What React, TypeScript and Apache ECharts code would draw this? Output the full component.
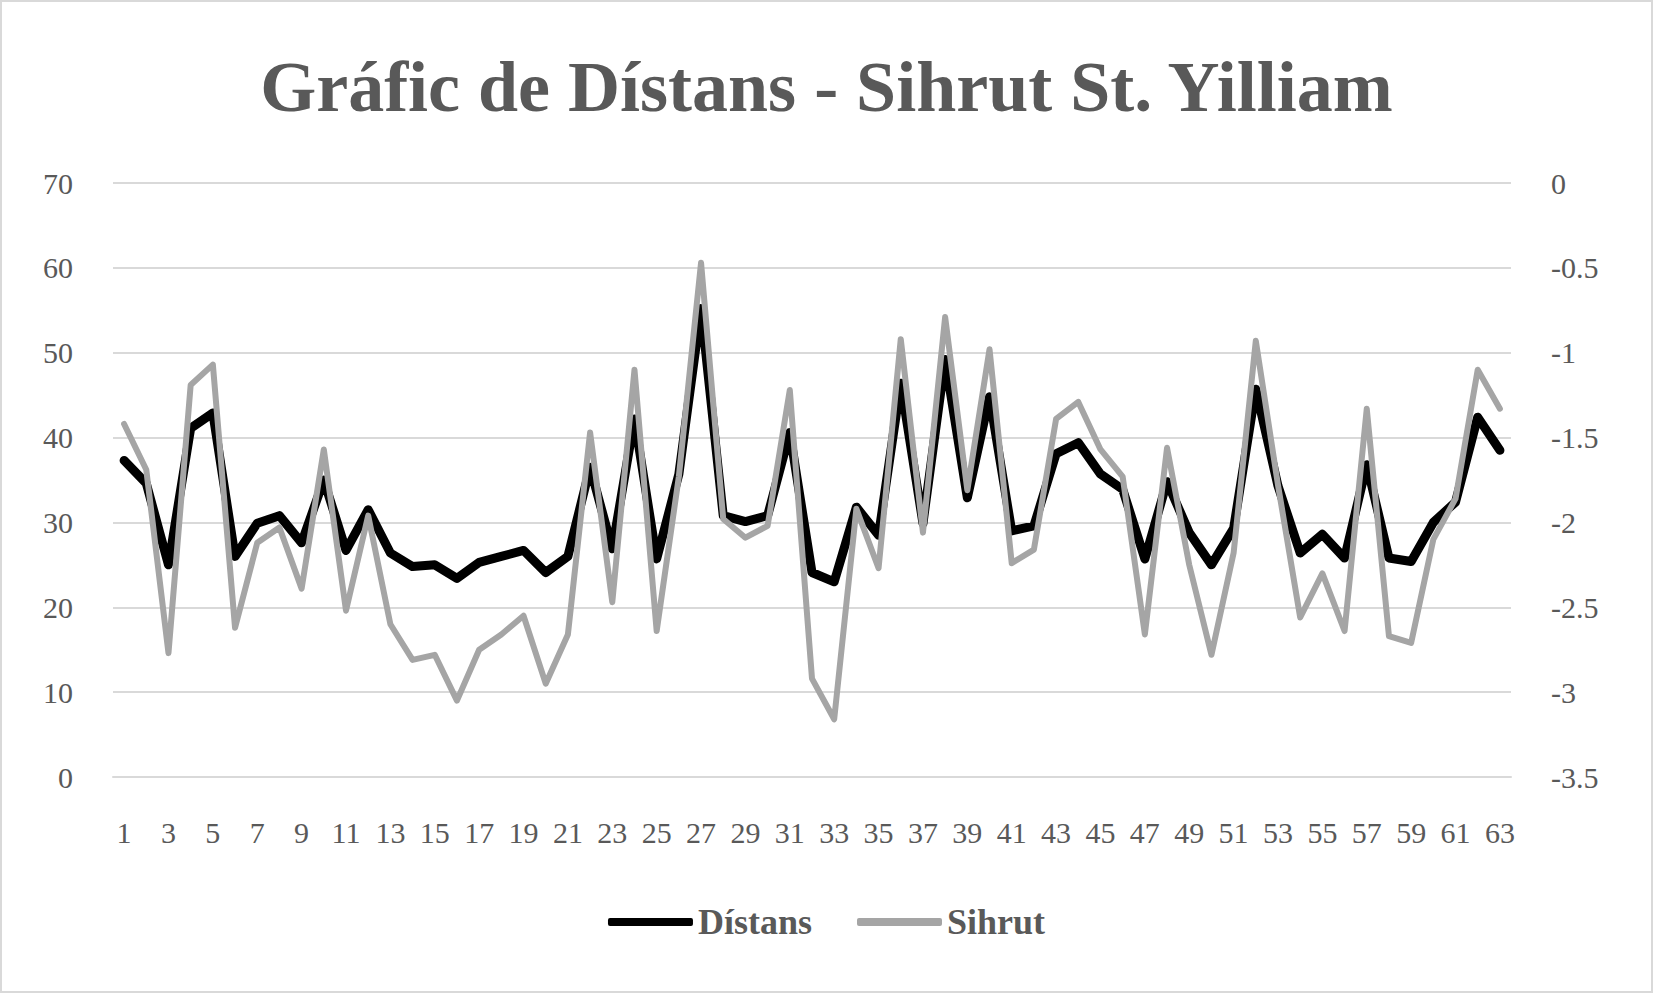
import { useEffect, useRef } from 'react';
import * as echarts from 'echarts';

const TITLE = 'Gráfic de Dístans - Sihrut St. Yilliam';
const SERIES_NAMES = ['Dístans', 'Sihrut'];

const categories = Array.from({ length: 63 }, (_, i) => String(i + 1));

const distans = [
  37.3, 34.6, 25.0, 41.1, 42.9, 26.0, 29.9, 30.8, 27.6, 35.0,
  26.7, 31.5, 26.4, 24.8, 25.0, 23.4, 25.3, 26.0, 26.7, 24.1,
  26.0, 36.5, 26.9, 42.2, 25.7, 35.7, 55.2, 30.8, 30.1, 30.8,
  40.6, 24.1, 23.0, 31.8, 28.5, 46.4, 29.9, 49.2, 32.9, 44.8,
  29.0, 29.6, 38.1, 39.4, 35.7, 33.9, 25.7, 34.8, 28.8, 25.0,
  29.3, 45.7, 34.3, 26.4, 28.6, 25.8, 36.8, 25.8, 25.4, 30.0,
  32.4, 42.4, 38.5,
];

const sihrut = [
  -1.42, -1.69, -2.77, -1.19, -1.07, -2.62, -2.12, -2.03, -2.39, -1.57,
  -2.52, -1.96, -2.6, -2.81, -2.78, -3.05, -2.75, -2.66, -2.55, -2.95,
  -2.66, -1.47, -2.47, -1.1, -2.64, -1.73, -0.47, -1.98, -2.09, -2.02,
  -1.22, -2.92, -3.16, -1.92, -2.27, -0.92, -2.06, -0.79, -1.81, -0.98,
  -2.24, -2.16, -1.39, -1.29, -1.57, -1.73, -2.66, -1.56, -2.25, -2.78,
  -2.18, -0.93, -1.78, -2.56, -2.3, -2.64, -1.33, -2.67, -2.71, -2.1,
  -1.86, -1.1, -1.33,
];

const FONT = '"Liberation Serif", "DejaVu Serif", serif';
const TEXT = '#595959';
const GRID = '#d9d9d9';

export default function App() {
  const ref = useRef<HTMLDivElement>(null);

  useEffect(() => {
    document.body.style.margin = '0';
    if (!ref.current) return;
    const chart = echarts.init(ref.current, undefined, { renderer: 'svg' });
    chart.setOption({
      animation: false,
      backgroundColor: '#fff',
      textStyle: { fontFamily: FONT },
      title: {
        text: TITLE,
        left: 'center',
        top: 44,
        textStyle: { fontFamily: FONT, fontSize: 72, fontWeight: 'bold', color: TEXT },
      },
      legend: {
        bottom: 46,
        left: 'center',
        itemWidth: 85,
        itemHeight: 8,
        itemGap: 45,
        textStyle: { fontFamily: FONT, fontSize: 36, fontWeight: 'bold', color: TEXT },
        data: SERIES_NAMES.map((name) => ({ name, icon: 'roundRect' })),
      },
      grid: { left: 111, right: 140, top: 181, bottom: 214 },
      xAxis: {
        type: 'category',
        data: categories,
        axisLine: { lineStyle: { color: GRID, width: 2 } },
        axisTick: { show: false },
        axisLabel: {
          interval: 1,
          margin: 40,
          fontFamily: FONT,
          fontSize: 30,
          color: TEXT,
        },
      },
      yAxis: [
        {
          type: 'value',
          min: 0,
          max: 70,
          interval: 10,
          axisLine: { show: false },
          axisTick: { show: false },
          splitLine: { lineStyle: { color: GRID, width: 2 } },
          axisLabel: { margin: 40, fontFamily: FONT, fontSize: 30, color: TEXT },
        },
        {
          type: 'value',
          min: -3.5,
          max: 0,
          interval: 0.5,
          axisLine: { show: false },
          axisTick: { show: false },
          splitLine: { show: false },
          axisLabel: { margin: 40, fontFamily: FONT, fontSize: 30, color: TEXT },
        },
      ],
      series: [
        {
          name: SERIES_NAMES[0],
          type: 'line',
          yAxisIndex: 0,
          data: distans,
          symbol: 'none',
          lineStyle: { color: '#000', width: 9, cap: 'round', join: 'round' },
          itemStyle: { color: '#000' },
          z: 3,
        },
        {
          name: SERIES_NAMES[1],
          type: 'line',
          yAxisIndex: 1,
          data: sihrut,
          symbol: 'none',
          lineStyle: { color: '#a5a5a5', width: 6, cap: 'round', join: 'round' },
          itemStyle: { color: '#a5a5a5' },
          z: 4,
        },
      ],
    });
    return () => chart.dispose();
  }, []);

  return (
    <div
      ref={ref}
      style={{
        position: 'fixed',
        left: 0,
        top: 0,
        width: 1653,
        height: 993,
        boxSizing: 'border-box',
        border: '2px solid #d9d9d9',
        background: '#fff',
      }}
    />
  );
}
